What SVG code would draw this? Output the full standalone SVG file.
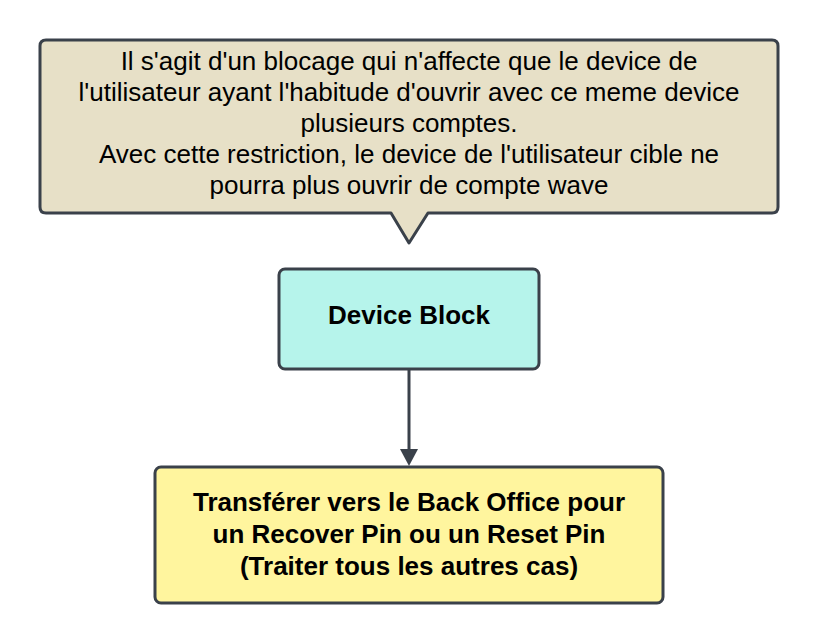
<svg xmlns="http://www.w3.org/2000/svg" width="818" height="644" viewBox="0 0 818 644">
<style>
.shape{stroke:#3a414a;stroke-width:3;stroke-linejoin:round}
.t{font-family:"Liberation Sans",Arial,sans-serif;font-size:26px;fill:#000;text-anchor:middle}
.b{font-weight:bold}
.conn{stroke:#3a414a;stroke-width:3;fill:none}
</style>
<rect width="818" height="644" fill="#ffffff"/>
<g id="note">
<path class="shape" fill="#e7e0c7" d="M46,40 H772 Q778,40 778,46 V207 Q778,213 772,213 H428 L409,243 L391,213 H46 Q40,213 40,207 V46 Q40,40 46,40 Z"/>
<text class="t" x="409" y="70">Il s'agit d'un blocage qui n'affecte que le device de</text>
<text class="t" x="409" y="101">l'utilisateur ayant l'habitude d'ouvrir avec ce meme device</text>
<text class="t" x="409" y="132">plusieurs comptes.</text>
<text class="t" x="409" y="163">Avec cette restriction, le device de l'utilisateur cible ne</text>
<text class="t" x="409" y="194">pourra plus ouvrir de compte wave</text>
</g>
<g id="device-block">
<rect class="shape" fill="#b6f4eb" x="279" y="269" width="260" height="100" rx="6"/>
<text class="t b" x="409" y="324">Device Block</text>
</g>
<g id="transfer">
<rect class="shape" fill="#fff59e" x="155" y="467" width="508" height="136" rx="6"/>
<text class="t b" x="409" y="511">Transférer vers le Back Office pour</text>
<text class="t b" x="409" y="543">un Recover Pin ou un Reset Pin</text>
<text class="t b" x="409" y="575">(Traiter tous les autres cas)</text>
</g>
<g id="connectors">
<line class="conn" x1="409" y1="370" x2="409" y2="450"/>
<path d="M400,449 L418,449 L409,466 Z" fill="#3a414a"/>
</g>
</svg>
